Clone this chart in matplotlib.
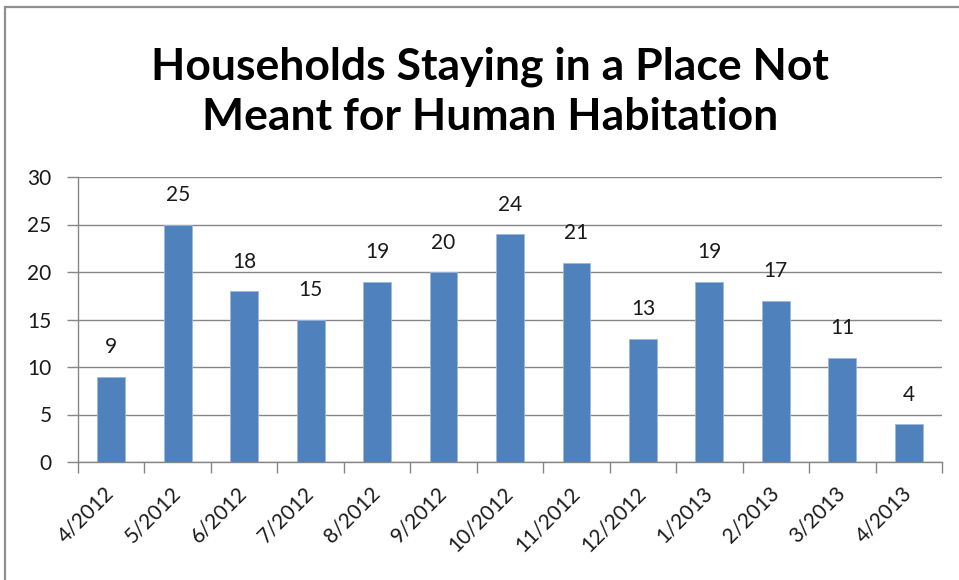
import matplotlib
matplotlib.use('Agg')
import matplotlib.pyplot as plt
import matplotlib.transforms as mtransforms
from matplotlib.patches import Rectangle
import numpy as np

months = ['4/2012', '5/2012', '6/2012', '7/2012', '8/2012', '9/2012', '10/2012',
          '11/2012', '12/2012', '1/2013', '2/2013', '3/2013', '4/2013']
households = [9, 25, 18, 15, 19, 20, 24, 21, 13, 19, 17, 11, 4]
title = 'Households Staying in a Place Not\nMeant for Human Habitation'

plt.rcParams['font.family'] = ['Lato', 'DejaVu Sans']
grey = '#868686'
txt = '#1a1a1a'

fig = plt.figure(figsize=(9.59, 5.8), dpi=100)
fig.patch.set_facecolor('white')

# chart frame (runs off the right and bottom edges)
fig.patches.append(Rectangle((5 / 959, -0.05), 1.2, 1 - 7 / 580 + 0.05,
                             transform=fig.transFigure, fill=False,
                             edgecolor='#8f8f8f', linewidth=1.6))

ax = fig.add_axes([78 / 959, 1 - 462 / 580, (942 - 78) / 959, (462 - 177) / 580])
x = np.arange(len(months))
bars = ax.bar(x, households, width=0.42, color='#4F81BD', edgecolor='#9db8da',
              linewidth=0.6, zorder=3)

for xi, v in zip(x, households):
    ax.annotate(str(v), (xi, v), xytext=(0, 14), textcoords='offset points',
                ha='center', va='bottom', fontsize=15, color=txt)

ax.set_xlim(-0.5, len(months) - 0.5)
ax.set_ylim(0, 30)
ax.set_yticks(range(0, 31, 5))
ax.yaxis.grid(True, color=grey, linewidth=1.0, zorder=0)
ax.set_axisbelow(True)

for side in ['top', 'right']:
    ax.spines[side].set_visible(False)
for side in ['left', 'bottom']:
    ax.spines[side].set_color(grey)
    ax.spines[side].set_linewidth(1.0)

ax.set_xticks(np.arange(-0.5, len(months), 1.0))
ax.set_xticklabels([])
ax.set_xticks(x, minor=True)
ax.set_xticklabels(months, minor=True, rotation=45, ha='right', fontsize=15,
                   color=txt)
ax.tick_params(axis='x', which='major', length=8, color=grey, width=1.0)
ax.tick_params(axis='x', which='minor', length=0, pad=15)
ax.tick_params(axis='y', length=8, color=grey, width=1.0, pad=11, labelsize=15,
               labelcolor=txt)

offset = mtransforms.ScaledTranslation(7 / 100, 0, fig.dpi_scale_trans)
for lab in ax.get_xticklabels(minor=True):
    lab.set_transform(lab.get_transform() + offset)

fig.text(490 / 959, 1 - 130 / 580, title, ha='center', va='baseline', fontsize=32,
         fontweight='bold', linespacing=1.3, color='black')

fig.savefig('out.png', dpi=100)
